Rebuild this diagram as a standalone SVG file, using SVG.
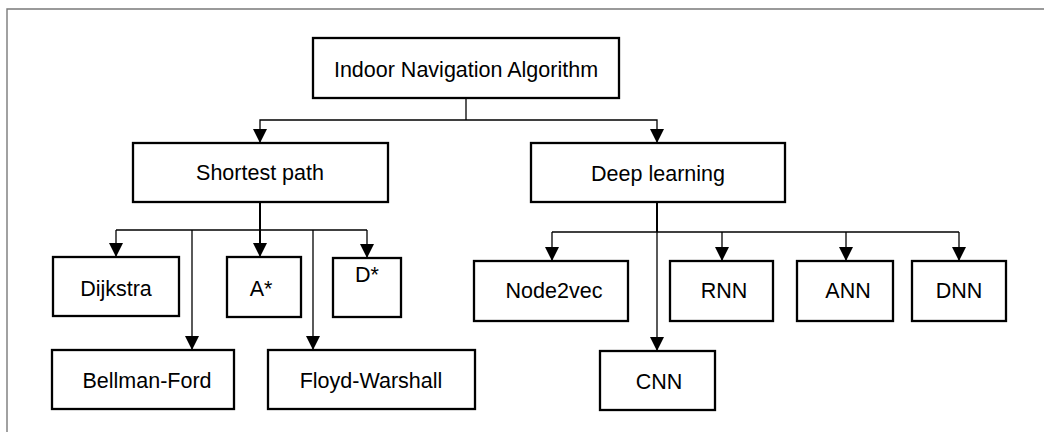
<svg xmlns="http://www.w3.org/2000/svg" width="1044" height="432" viewBox="0 0 1044 432">
  <style>
    .box { fill: #ffffff; stroke: #000000; stroke-width: 2.3; }
    .lbl { font-family: "Liberation Sans", Arial, sans-serif; font-size: 21.5px; fill: #000000; text-anchor: middle; }
    .conn { fill: none; stroke: #000000; stroke-width: 1.3; }
    .stem { fill: none; stroke: #000000; stroke-width: 2; }
  </style>
  <defs>
    <marker id="arr" viewBox="0 0 14 14" refX="14" refY="7" markerWidth="14" markerHeight="14" markerUnits="userSpaceOnUse" orient="auto">
      <path d="M0,0 L14,7 L0,14 z" fill="#000000"/>
    </marker>
  </defs>
  <rect x="0" y="0" width="1044" height="432" fill="#ffffff"/>
  <path d="M7,432 L7,9 L1044,9" fill="none" stroke="#7a7a7a" stroke-width="1.4"/>

  <g id="connectors">
    <path class="conn" d="M466,98 L466,120"/>
    <path class="conn" d="M466,120 L260,120 L260,143" marker-end="url(#arr)"/>
    <path class="conn" d="M466,120 L657,120 L657,143" marker-end="url(#arr)"/>

    <path class="stem" d="M260,202 L260,230"/>
    <path class="conn" d="M116,230 L367,230"/>
    <path class="conn" d="M116,230 L116,257" marker-end="url(#arr)"/>
    <path class="stem" d="M260,230 L260,250"/>
    <path class="conn" d="M260,230 L260,257" marker-end="url(#arr)"/>
    <path class="conn" d="M367,230 L367,258" marker-end="url(#arr)"/>
    <path class="conn" d="M192,230 L192,350" marker-end="url(#arr)"/>
    <path class="conn" d="M313,230 L313,350" marker-end="url(#arr)"/>

    <path class="stem" d="M657,202 L657,232"/>
    <path class="conn" d="M552,232 L959,232"/>
    <path class="conn" d="M552,232 L552,261" marker-end="url(#arr)"/>
    <path class="conn" d="M722,232 L722,261" marker-end="url(#arr)"/>
    <path class="conn" d="M846,232 L846,261" marker-end="url(#arr)"/>
    <path class="conn" d="M959,232 L959,261" marker-end="url(#arr)"/>
    <path class="conn" d="M657,232 L657,351" marker-end="url(#arr)"/>
  </g>

  <g id="root">
    <rect class="box" x="313" y="38" width="306" height="60"/>
    <text class="lbl" x="466" y="77">Indoor Navigation Algorithm</text>
  </g>
  <g id="shortest-path">
    <rect class="box" x="133" y="143" width="255" height="59"/>
    <text class="lbl" x="260" y="180">Shortest path</text>
  </g>
  <g id="deep-learning">
    <rect class="box" x="531" y="143" width="254" height="59"/>
    <text class="lbl" x="658" y="181">Deep learning</text>
  </g>
  <g id="dijkstra">
    <rect class="box" x="53" y="257" width="126" height="59"/>
    <text class="lbl" x="116" y="296">Dijkstra</text>
  </g>
  <g id="a-star">
    <rect class="box" x="227" y="257" width="74" height="60"/>
    <text class="lbl" x="261" y="296">A*</text>
  </g>
  <g id="d-star">
    <rect class="box" x="333" y="258" width="68" height="59"/>
    <text class="lbl" x="367" y="282">D*</text>
  </g>
  <g id="bellman-ford">
    <rect class="box" x="52" y="350" width="182" height="59"/>
    <text class="lbl" x="147" y="388">Bellman-Ford</text>
  </g>
  <g id="floyd-warshall">
    <rect class="box" x="268" y="350" width="207" height="59"/>
    <text class="lbl" x="371" y="388">Floyd-Warshall</text>
  </g>
  <g id="node2vec">
    <rect class="box" x="474" y="261" width="154" height="60"/>
    <text class="lbl" x="554" y="298">Node2vec</text>
  </g>
  <g id="rnn">
    <rect class="box" x="670" y="261" width="103" height="60"/>
    <text class="lbl" x="724" y="298">RNN</text>
  </g>
  <g id="ann">
    <rect class="box" x="797" y="261" width="96" height="60"/>
    <text class="lbl" x="848" y="298">ANN</text>
  </g>
  <g id="dnn">
    <rect class="box" x="912" y="261" width="94" height="60"/>
    <text class="lbl" x="959" y="298">DNN</text>
  </g>
  <g id="cnn">
    <rect class="box" x="600" y="351" width="115" height="59"/>
    <text class="lbl" x="659" y="389">CNN</text>
  </g>
</svg>
